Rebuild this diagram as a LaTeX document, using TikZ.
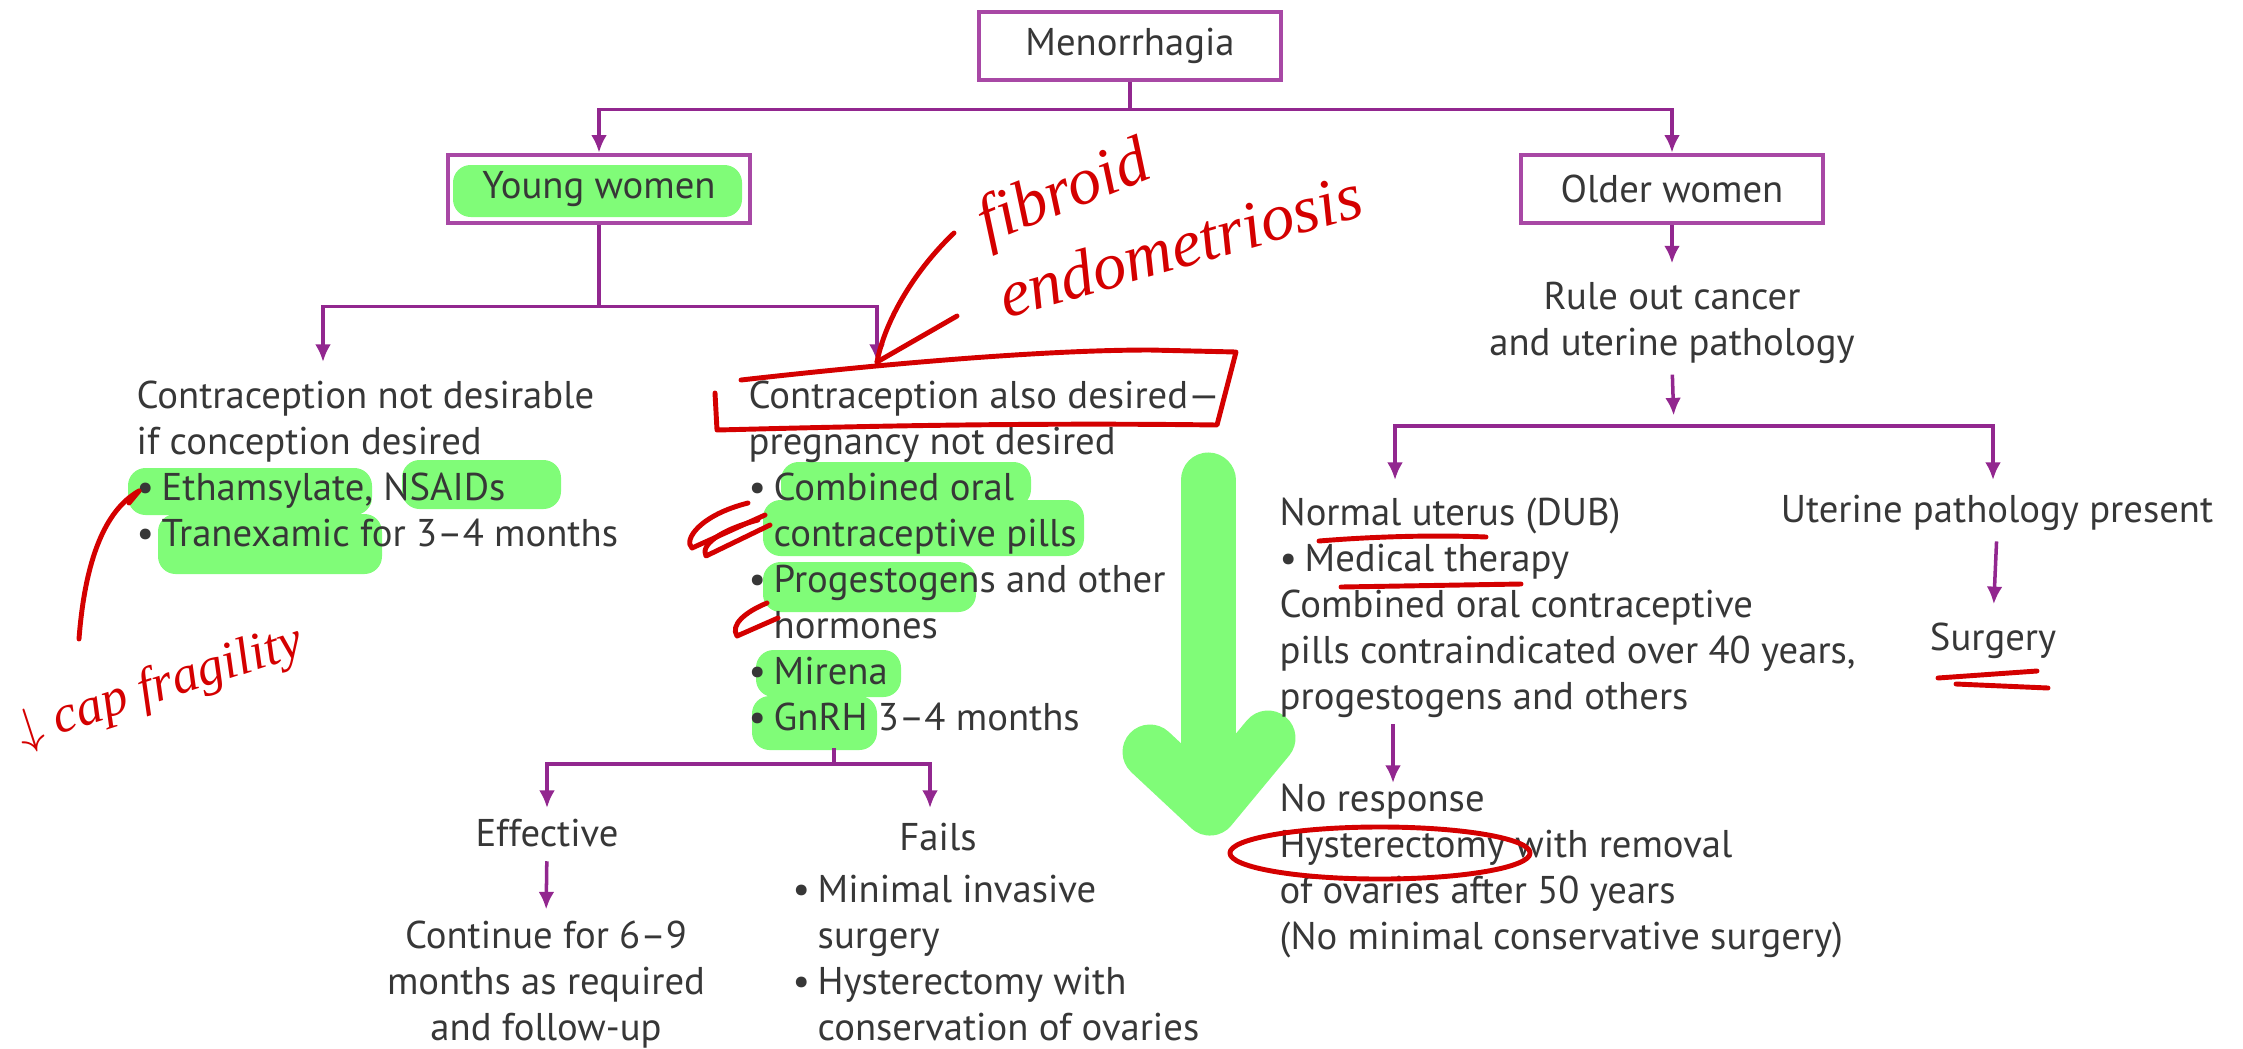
\documentclass[tikz,border=0pt]{standalone}
\usepackage{fontspec}
\setmainfont{PT Sans}
\newfontfamily\penfont{Liberation Serif}
\usetikzlibrary{arrows.meta}
\definecolor{flowpurple}{RGB}{146,39,143}
\definecolor{boxpurple}{RGB}{168,72,165}
\definecolor{inkgray}{RGB}{55,55,55}
\definecolor{markgreen}{RGB}{128,252,120}
\definecolor{penred}{RGB}{212,0,0}
\newcommand{\bul}{\makebox[0.25cm][l]{\textbullet}}
\newcommand{\sublin}{\hspace*{0.25cm}}

\begin{document}
\begin{tikzpicture}[x=0.01cm,y=-0.01cm,
  flowbox/.style={draw=boxpurple, line width=1.3pt, minimum width=3.02cm, minimum height=0.68cm, inner sep=0pt, text=inkgray, font=\fontsize{11}{13.1}\selectfont},
  txt/.style={text=inkgray, font=\fontsize{11}{13.1}\selectfont, inner sep=0pt, align=left},
  arr/.style={draw=flowpurple, line width=1pt, -{Latex[length=5pt,width=4.5pt]}},
  hl/.style={fill=markgreen, rounded corners=5pt},
  bigarrow/.style={draw=markgreen, line width=0.55cm, line cap=round, line join=round},
  pen/.style={draw=penred, line width=1.4pt, line cap=round, line join=round},
  hand/.style={text=penred, inner sep=0pt, font=\penfont\itshape\fontsize{19}{19}\selectfont}]
\useasboundingbox (0,0) rectangle (2243,1048);

\fill[hl] (453,165) rectangle (742,217);
\fill[hl] (128,468) rectangle (372,515);
\fill[hl] (402,460) rectangle (561,509);
\fill[hl] (158,514) rectangle (382,574);
\fill[hl] (781,462) rectangle (1031,507);
\fill[hl] (763,500) rectangle (1084,556);
\fill[hl] (763,562) rectangle (976,612);
\fill[hl] (756,650) rectangle (901,697);
\fill[hl] (752,696) rectangle (877,750);
\draw[bigarrow] (1208,480) -- (1208,800);
\draw[bigarrow] (1150,752) -- (1210,808) -- (1268,738);

\node[flowbox] (menor) at (1130,46) {Menorrhagia};
\node[flowbox] (young) at (599,189) {Young women};
\node[flowbox] (older) at (1672,189) {Older women};

\node[txt, anchor=north west] (ctranot) at (136,380) {Contraception not desirable\\ if conception desired\\ \bul Ethamsylate, NSAIDs\\ \bul Tranexamic for 3--4 months};
\node[txt, anchor=north west] (ctrayes) at (748,380) {Contraception also desired---\\ pregnancy not desired\\ \bul Combined oral\\ \sublin contraceptive pills\\ \bul Progestogens and other\\ \sublin hormones\\ \bul Mirena\\ \bul GnRH 3--4 months};
\node[txt, anchor=base] (effective) at (547,846) {Effective};
\node[txt, anchor=base] (fails) at (938,850) {Fails};
\node[txt, align=center, anchor=north] (cont) at (546,920) {Continue for 6--9\\ months as required\\ and follow-up};
\node[txt, anchor=north west] (failslist) at (792,874) {\bul Minimal invasive\\ \sublin surgery\\ \bul Hysterectomy with\\ \sublin conservation of ovaries};

\node[txt, align=center, anchor=north] (rule) at (1672,281) {Rule out cancer\\ and uterine pathology};
\node[txt, anchor=north west] (normal) at (1279,497) {Normal uterus (DUB)\\ \bul Medical therapy\\ Combined oral contraceptive\\ pills contraindicated over 40 years,\\ progestogens and others};
\node[txt, anchor=north west] (noresp) at (1279,783) {No response\\ Hysterectomy with removal\\ of ovaries after 50 years\\ (No minimal conservative surgery)};
\node[txt, anchor=base] (pathology) at (1997,522) {Uterine pathology present};
\node[txt, anchor=base] (surgery) at (1993,650) {Surgery};

\coordinate (notin) at (323,362);
\coordinate (yesin) at (877,362);
\coordinate (gnrhout) at (834,748);
\coordinate (effin) at (547,808);
\coordinate (failin) at (930,808);
\coordinate (split) at (1674,426);
\coordinate (normin) at (1395,480);
\coordinate (pathin) at (1993,480);
\coordinate (normout) at (1393,724);

\draw[arr] (menor.south) -- ++(0,27) -| (young.north);
\draw[arr] (menor.south) -- ++(0,27) -| (older.north);
\draw[arr] (young.south) -- ++(0,81) -| (notin);
\draw[arr] (young.south) -- ++(0,81) -| (yesin);
\draw[arr] (gnrhout) -- ++(0,16) -| (effin);
\draw[arr] (gnrhout) -- ++(0,16) -| (failin);
\draw[arr, shorten <=4pt, shorten >=3pt] (effective.south) -- (cont.north);
\draw[arr, shorten >=5pt] (older.south) -- (rule.north);
\draw[arr, shorten <=3pt, shorten >=3pt] (rule.south) -- (split);
\draw[arr] (split) -| (normin);
\draw[arr] (split) -| (pathin);
\draw[arr] (normout) -- (noresp.north -| normout);
\draw[arr, shorten <=3pt, shorten >=5pt] (pathology.south) -- (surgery.north);

\node[hand, rotate=22] (fibroid) at (1065,195) {fibroid};
\node[hand, rotate=16] (endo) at (1180,245) {endometriosis};
\node[hand, rotate=18, font=\penfont\itshape\fontsize{15}{15}\selectfont] (capfrag) at (160,688) {$\downarrow$ cap fragility};
\coordinate (fibtail) at (954,233);
\coordinate (captail) at (79,639);
\coordinate (captip) at (139,491);
\draw[pen] (fibtail) .. controls (915,270) and (885,320) .. (yesin);
\draw[pen] (yesin) -- ++(80,-46);
\draw[pen] (captail) .. controls (85,560) and (105,510) .. (captip);
\draw[pen] (captip) -- ++(-10,12);
\draw[pen] (741,380) .. controls (900,362) and (1050,350) .. (1150,350) -- (1236,352) -- (1217,425) .. controls (1000,422) and (800,428) .. (717,430) -- (715,393);
\draw[pen] (748,503) .. controls (700,515) and (683,540) .. (692,548) -- (765,515);
\draw[pen] (758,520) .. controls (720,530) and (700,545) .. (706,556) -- (770,525);
\draw[pen] (767,603) .. controls (745,612) and (730,625) .. (737,636) -- (778,618);
\draw[pen] (1319,541) .. controls (1380,536) and (1440,535) .. (1486,537);
\draw[pen] (1341,587) -- (1521,584);
\draw[pen] (1938,678) -- (2037,671);
\draw[pen] (1956,684) -- (2048,688);
\draw[pen] (1380,853) ellipse [x radius=1.5cm, y radius=0.26cm];
\end{tikzpicture}
\end{document}
